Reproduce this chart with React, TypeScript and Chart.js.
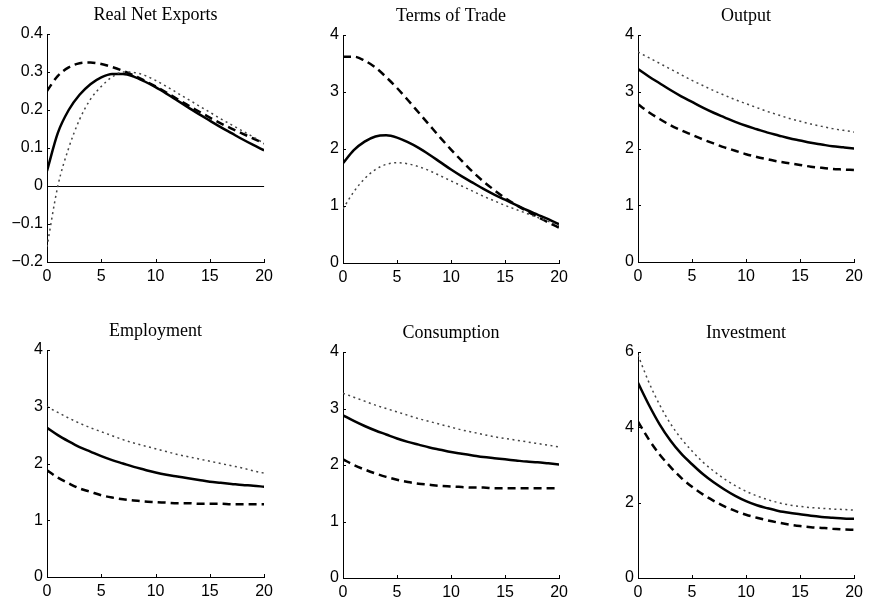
import React, { useEffect, useRef } from "react";
import { Chart, registerables } from "chart.js";

Chart.register(...registerables);

// ---------------- DATA ----------------
const periods = [0, 1, 2, 3, 4, 5, 6, 7, 8, 9, 10, 11, 12, 13, 14, 15, 16, 17, 18, 19, 20];
const xTicks = [0, 5, 10, 15, 20];
const xTickLabels = ["0", "5", "10", "15", "20"];

const titles = ["Real Net Exports", "Terms of Trade", "Output", "Employment", "Consumption", "Investment"];

// Real Net Exports
const rnxSolid = [0.04, 0.14, 0.2, 0.24, 0.268, 0.286, 0.295, 0.295, 0.288, 0.275, 0.26, 0.243, 0.225, 0.207, 0.189, 0.172, 0.155, 0.139, 0.123, 0.108, 0.094];
const rnxDashed = [0.25, 0.29, 0.312, 0.323, 0.325, 0.321, 0.313, 0.303, 0.291, 0.277, 0.262, 0.246, 0.229, 0.212, 0.196, 0.18, 0.165, 0.151, 0.138, 0.125, 0.112];
const rnxDotted = [-0.16, 0.0, 0.1, 0.175, 0.228, 0.262, 0.287, 0.3, 0.299, 0.291, 0.278, 0.262, 0.245, 0.228, 0.211, 0.194, 0.177, 0.161, 0.145, 0.129, 0.112];
const rnxTicks = [-0.2, -0.1, 0, 0.1, 0.2, 0.3, 0.4];
const rnxTickLabels = ["\u22120.2", "\u22120.1", "0", "0.1", "0.2", "0.3", "0.4"];

// Terms of Trade
const totSolid = [1.75, 1.98, 2.13, 2.22, 2.24, 2.2, 2.12, 2.02, 1.9, 1.77, 1.64, 1.52, 1.41, 1.3, 1.2, 1.11, 1.02, 0.93, 0.85, 0.77, 0.68];
const totDashed = [3.62, 3.62, 3.55, 3.43, 3.26, 3.07, 2.86, 2.64, 2.42, 2.2, 1.99, 1.79, 1.6, 1.43, 1.28, 1.14, 1.02, 0.91, 0.81, 0.71, 0.62];
const totDotted = [0.95, 1.25, 1.48, 1.64, 1.73, 1.76, 1.74, 1.69, 1.62, 1.53, 1.44, 1.35, 1.26, 1.17, 1.09, 1.01, 0.94, 0.87, 0.8, 0.73, 0.66];

// Output
const outSolid = [3.4, 3.27, 3.15, 3.03, 2.92, 2.82, 2.72, 2.63, 2.55, 2.47, 2.4, 2.34, 2.28, 2.23, 2.18, 2.14, 2.1, 2.07, 2.04, 2.02, 2.0];
const outDashed = [2.78, 2.64, 2.52, 2.41, 2.32, 2.24, 2.16, 2.09, 2.02, 1.96, 1.9, 1.85, 1.81, 1.77, 1.74, 1.71, 1.68, 1.66, 1.64, 1.63, 1.62];
const outDotted = [3.7, 3.6, 3.5, 3.4, 3.3, 3.2, 3.11, 3.02, 2.94, 2.86, 2.79, 2.72, 2.65, 2.59, 2.53, 2.48, 2.43, 2.39, 2.35, 2.32, 2.29];

// Employment
const empSolid = [2.63, 2.5, 2.39, 2.29, 2.21, 2.13, 2.06, 2.0, 1.94, 1.89, 1.84, 1.8, 1.77, 1.74, 1.71, 1.68, 1.66, 1.64, 1.62, 1.61, 1.59];
const empDashed = [1.88, 1.75, 1.65, 1.56, 1.5, 1.44, 1.4, 1.37, 1.35, 1.33, 1.32, 1.31, 1.3, 1.3, 1.29, 1.29, 1.29, 1.28, 1.28, 1.28, 1.28];
const empDotted = [3.0, 2.9, 2.8, 2.71, 2.63, 2.56, 2.49, 2.42, 2.36, 2.31, 2.26, 2.21, 2.16, 2.12, 2.08, 2.04, 2.0, 1.96, 1.92, 1.87, 1.83];

// Consumption
const conSolid = [2.88, 2.78, 2.69, 2.61, 2.54, 2.47, 2.41, 2.36, 2.31, 2.27, 2.23, 2.2, 2.17, 2.14, 2.12, 2.1, 2.08, 2.06, 2.05, 2.03, 2.01];
const conDashed = [2.1, 2.0, 1.92, 1.85, 1.79, 1.74, 1.7, 1.67, 1.65, 1.63, 1.62, 1.61, 1.6, 1.6, 1.59, 1.59, 1.59, 1.59, 1.59, 1.59, 1.59];
const conDotted = [3.27, 3.2, 3.13, 3.06, 3.0, 2.94, 2.88, 2.82, 2.77, 2.72, 2.67, 2.62, 2.58, 2.54, 2.5, 2.47, 2.44, 2.41, 2.38, 2.35, 2.32];

// Investment
const invSolid = [5.18, 4.6, 4.08, 3.65, 3.3, 3.02, 2.76, 2.54, 2.35, 2.18, 2.04, 1.93, 1.85, 1.78, 1.73, 1.69, 1.65, 1.62, 1.6, 1.58, 1.57];
const invDashed = [4.15, 3.68, 3.28, 2.95, 2.66, 2.42, 2.22, 2.05, 1.9, 1.78, 1.68, 1.6, 1.53, 1.47, 1.42, 1.38, 1.35, 1.33, 1.31, 1.29, 1.28];
const invDotted = [5.92, 5.2, 4.6, 4.1, 3.7, 3.37, 3.08, 2.84, 2.63, 2.45, 2.3, 2.18, 2.08, 2.0, 1.94, 1.9, 1.87, 1.85, 1.83, 1.82, 1.8];

const ticks0to4 = [0, 1, 2, 3, 4];
const ticks0to4Labels = ["0", "1", "2", "3", "4"];
const ticks0to6 = [0, 2, 4, 6];
const ticks0to6Labels = ["0", "2", "4", "6"];

// ---------------- LAYOUT / STYLE ----------------
const Y_AXIS_W = 45;
const X_AXIS_H = 28;
const TITLE_H = 35;
const RIGHT_PAD = 10;

type Panel = {
  title: string;
  solid: number[];
  dashed: number[];
  dotted: number[];
  yTicks: number[];
  yLabels: string[];
  zero: boolean;
  rect: { l: number; t: number; r: number; b: number };
};

const panels: Panel[] = [
  { title: titles[0], solid: rnxSolid, dashed: rnxDashed, dotted: rnxDotted, yTicks: rnxTicks, yLabels: rnxTickLabels, zero: true, rect: { l: 47, t: 34, r: 268, b: 262 } },
  { title: titles[1], solid: totSolid, dashed: totDashed, dotted: totDotted, yTicks: ticks0to4, yLabels: ticks0to4Labels, zero: false, rect: { l: 343, t: 35, r: 563, b: 263 } },
  { title: titles[2], solid: outSolid, dashed: outDashed, dotted: outDotted, yTicks: ticks0to4, yLabels: ticks0to4Labels, zero: false, rect: { l: 638, t: 35, r: 858, b: 262 } },
  { title: titles[3], solid: empSolid, dashed: empDashed, dotted: empDotted, yTicks: ticks0to4, yLabels: ticks0to4Labels, zero: false, rect: { l: 47, t: 350, r: 268, b: 577 } },
  { title: titles[4], solid: conSolid, dashed: conDashed, dotted: conDotted, yTicks: ticks0to4, yLabels: ticks0to4Labels, zero: false, rect: { l: 343, t: 352, r: 563, b: 578 } },
  { title: titles[5], solid: invSolid, dashed: invDashed, dotted: invDotted, yTicks: ticks0to6, yLabels: ticks0to6Labels, zero: false, rect: { l: 638, t: 352, r: 858, b: 578 } },
];

const inwardTicks = {
  id: "inTicks",
  beforeDatasetsDraw(chart: any, _args: any, opts: any) {
    const ctx = chart.ctx;
    const ca = chart.chartArea;
    if (opts && opts.zero) {
      const py = Math.round(chart.scales.y.getPixelForValue(0)) + 0.5;
      ctx.save();
      ctx.strokeStyle = "#000";
      ctx.lineWidth = 1;
      ctx.beginPath();
      ctx.moveTo(ca.left, py);
      ctx.lineTo(ca.right, py);
      ctx.stroke();
      ctx.restore();
    }
  },
  afterDraw(chart: any) {
    const ctx = chart.ctx;
    const ca = chart.chartArea;
    const xs = chart.scales.x;
    const ys = chart.scales.y;
    ctx.save();
    ctx.strokeStyle = "#000";
    ctx.lineWidth = 1;
    ctx.beginPath();
    xs.ticks.forEach((t: any) => {
      const px = Math.round(xs.getPixelForValue(t.value)) + 0.5;
      ctx.moveTo(px, ca.bottom);
      ctx.lineTo(px, ca.bottom - 3);
    });
    ys.ticks.forEach((t: any) => {
      const py = Math.round(ys.getPixelForValue(t.value)) + 0.5;
      ctx.moveTo(ca.left, py);
      ctx.lineTo(ca.left + 3, py);
    });
    ctx.stroke();
    ctx.restore();
  },
};

function toPoints(vals: number[]) {
  return periods.map((x, i) => ({ x, y: vals[i] }));
}

function PanelChart({ p }: { p: Panel }) {
  const ref = useRef<HTMLCanvasElement | null>(null);
  const w = p.rect.r - p.rect.l + Y_AXIS_W + RIGHT_PAD;
  const h = p.rect.b - p.rect.t + TITLE_H + X_AXIS_H;
  const left = p.rect.l - Y_AXIS_W;
  const top = p.rect.t - TITLE_H;

  useEffect(() => {
    if (!ref.current) return;
    const yMin = p.yTicks[0];
    const yMax = p.yTicks[p.yTicks.length - 1];
    const chart = new Chart(ref.current, {
      type: "line",
      data: {
        datasets: [
          {
            data: toPoints(p.dotted),
            borderColor: "#444",
            borderWidth: 1.5,
            borderDash: [2, 3.5],
            borderCapStyle: "butt",
            pointRadius: 0,
            cubicInterpolationMode: "monotone",
            fill: false,
          },
          {
            data: toPoints(p.dashed),
            borderColor: "#000",
            borderWidth: 2.5,
            borderDash: [8, 5],
            pointRadius: 0,
            cubicInterpolationMode: "monotone",
            fill: false,
          },
          {
            data: toPoints(p.solid),
            borderColor: "#000",
            borderWidth: 2.5,
            pointRadius: 0,
            cubicInterpolationMode: "monotone",
            fill: false,
          },
        ],
      },
      options: {
        animation: false,
        responsive: false,
        devicePixelRatio: 1,
        events: [],
        layout: { padding: { left: 0, right: RIGHT_PAD, top: 0, bottom: 0 } },
        plugins: {
          legend: { display: false },
          tooltip: { enabled: false },
          title: {
            display: true,
            text: p.title,
            fullSize: false,
            color: "#000",
            font: { family: "'Liberation Serif', 'Times New Roman', serif", size: 18, weight: "normal", lineHeight: "22px" },
            padding: { top: 5, bottom: 8 },
          },
          inTicks: { zero: p.zero },
        } as any,
        scales: {
          x: {
            type: "linear",
            min: 0,
            max: 20,
            grid: { display: false, drawTicks: false },
            border: { display: true, color: "#000", width: 1 },
            afterBuildTicks: (s: any) => {
              s.ticks = xTicks.map((v) => ({ value: v }));
            },
            afterFit: (s: any) => {
              s.height = X_AXIS_H;
            },
            ticks: {
              color: "#000",
              padding: 5,
              maxRotation: 0,
              autoSkip: false,
              font: { family: "'Liberation Sans', Arial, sans-serif", size: 16 },
              callback: (_v: any, i: number) => xTickLabels[i],
            },
          },
          y: {
            type: "linear",
            min: yMin,
            max: yMax,
            grid: { display: false, drawTicks: false },
            border: { display: true, color: "#000", width: 1 },
            afterBuildTicks: (s: any) => {
              s.ticks = p.yTicks.map((v) => ({ value: v }));
            },
            afterFit: (s: any) => {
              s.width = Y_AXIS_W;
            },
            ticks: {
              color: "#000",
              padding: 4,
              autoSkip: false,
              font: { family: "'Liberation Sans', Arial, sans-serif", size: 16 },
              callback: (_v: any, i: number) => p.yLabels[i],
            },
          },
        },
      } as any,
      plugins: [inwardTicks as any],
    });
    return () => chart.destroy();
  }, [p]);

  return (
    <canvas
      ref={ref}
      width={w}
      height={h}
      style={{ position: "absolute", left, top, width: w, height: h }}
    />
  );
}

export default function App() {
  return (
    <div
      style={{
        position: "absolute",
        left: 0,
        top: 0,
        width: 869,
        height: 604,
        overflow: "hidden",
        background: "#fff",
      }}
    >
      {panels.map((p, i) => (
        <PanelChart key={i} p={p} />
      ))}
    </div>
  );
}
